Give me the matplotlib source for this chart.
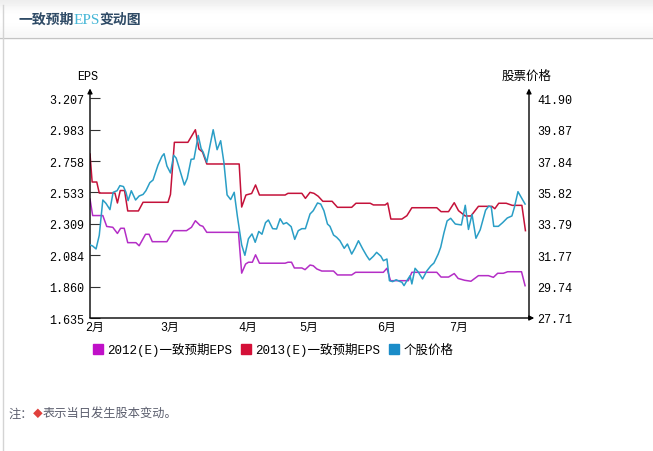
import matplotlib
matplotlib.use("Agg")
import matplotlib.pyplot as plt
from matplotlib.lines import Line2D

W, H = 653, 452

# x = trading-day index (0 = 2012-01-30)
months = ["2月", "3月", "4月", "5月", "6月", "7月"]
month_pos = [2, 23, 45, 62, 84, 104]

eps_ticks = [1.635, 1.860, 2.084, 2.309, 2.533, 2.758, 2.983, 3.207]
price_ticks = [27.71, 29.74, 31.77, 33.79, 35.82, 37.84, 39.87, 41.90]

# 2013(E) consensus EPS
eps2013_x = [0.6, 1.2, 2.5, 3.2, 7.6, 8.3, 9.1, 10.3, 11.2, 14.2,
             15.5, 22.5, 23.2, 24.3, 28.1, 30.2, 31.2, 32.2, 33.4, 42.5,
             43.2, 44.4, 46.0, 47.1, 48.2, 55.4, 56.2, 60.1, 61.1, 62.4,
             63.5, 64.7, 66.0, 68.6, 70.1, 74.1, 75.3, 79.3, 80.2, 83.5,
             84.2, 85.1, 88.2, 89.6, 91.0, 98.0, 99.2, 101.3, 102.9, 104.1,
             106.0, 107.6, 109.7, 113.5, 114.3, 115.4, 117.5, 119.2, 121.9, 122.9]
eps2013_y = [2.808, 2.608, 2.608, 2.529, 2.529, 2.458, 2.547, 2.547, 2.401, 2.401,
             2.463, 2.463, 2.519, 2.892, 2.892, 2.982, 2.844, 2.823, 2.737, 2.737,
             2.429, 2.515, 2.526, 2.587, 2.515, 2.515, 2.527, 2.527, 2.491, 2.534,
             2.527, 2.506, 2.470, 2.470, 2.427, 2.427, 2.456, 2.456, 2.444, 2.444,
             2.458, 2.343, 2.343, 2.367, 2.424, 2.424, 2.396, 2.396, 2.460, 2.403,
             2.365, 2.365, 2.434, 2.434, 2.417, 2.456, 2.456, 2.441, 2.441, 2.260]

# 2012(E) consensus EPS
eps2012_x = [0.6, 1.35, 4.2, 5.3, 7.0, 8.3, 9.2, 10.2, 11.2, 13.5,
             14.4, 16.2, 17.2, 18.1, 22.2, 24.1, 27.7, 29.1, 30.2, 31.5,
             32.3, 33.4, 42.3, 43.2, 44.3, 45.1, 46.2, 47.1, 48.2, 55.4,
             56.2, 57.2, 58.0, 60.1, 61.0, 62.4, 63.3, 64.3, 65.7, 69.0,
             70.1, 74.1, 75.2, 83.0, 84.0, 85.0, 90.0, 91.0, 98.0, 99.2,
             101.3, 102.9, 104.0, 105.8, 107.6, 109.7, 112.5, 113.9, 115.1, 116.7,
             117.9, 121.8, 122.8]
eps2012_y = [2.486, 2.368, 2.368, 2.290, 2.284, 2.240, 2.277, 2.277, 2.174, 2.174,
             2.152, 2.234, 2.234, 2.181, 2.181, 2.260, 2.260, 2.284, 2.331, 2.298,
             2.291, 2.248, 2.248, 1.956, 2.021, 2.034, 2.034, 2.087, 2.027, 2.027,
             2.034, 2.034, 1.993, 1.993, 1.981, 2.014, 2.009, 1.986, 1.971, 1.971,
             1.943, 1.943, 1.962, 1.962, 1.991, 1.902, 1.902, 1.962, 1.962, 1.928,
             1.928, 1.953, 1.918, 1.905, 1.898, 1.938, 1.938, 1.926, 1.955, 1.955,
             1.966, 1.966, 1.866]

# share price
price_x = [0.6, 1.35, 2.3, 3.2, 4.2, 5.1, 6.2, 7.1, 8.2, 9.0,
           10.0, 10.7, 11.3, 12.2, 13.4, 14.4, 15.5, 16.3, 17.4, 18.3,
           19.7, 20.8, 21.4, 22.2, 23.2, 24.1, 24.8, 25.9, 27.1, 27.9,
           29.0, 29.8, 31.0, 31.8, 32.4, 33.4, 34.3, 35.2, 36.3, 37.3,
           38.2, 39.1, 40.1, 41.1, 42.0, 43.2, 44.1, 45.1, 46.1, 47.0,
           48.0, 48.9, 49.9, 50.7, 51.9, 53.0, 54.0, 54.9, 55.8, 57.1,
           58.1, 59.1, 60.1, 61.1, 62.4, 63.3, 64.5, 65.4, 66.3, 67.3,
           68.0, 69.0, 69.9, 70.8, 72.0, 72.9, 74.1, 75.0, 76.0, 77.2,
           78.3, 79.1, 80.2, 81.1, 82.3, 83.0, 84.0, 84.7, 85.6, 86.6,
           87.5, 88.2, 88.8, 89.7, 90.5, 91.0, 91.9, 92.8, 94.0, 95.2,
           96.3, 97.2, 98.4, 99.1, 100.0, 100.9, 101.9, 103.2, 104.9, 106.0,
           106.9, 107.9, 109.0, 110.2, 111.7, 112.6, 113.3, 114.0, 115.3, 116.5,
           117.8, 119.1, 119.8, 120.8, 122.8]
price_y = [32.43, 32.36, 32.17, 33.05, 35.33, 35.11, 34.71, 35.83, 35.93, 36.26,
           36.20, 35.83, 35.29, 35.93, 35.33, 35.59, 35.69, 35.93, 36.45, 36.62,
           37.59, 38.15, 38.32, 37.53, 37.08, 38.22, 38.04, 37.21, 36.30, 36.72,
           37.96, 37.98, 39.50, 38.66, 38.41, 37.77, 38.85, 39.87, 38.58, 39.16,
           37.77, 35.66, 35.36, 35.83, 34.27, 32.43, 31.76, 32.83, 33.14, 32.60,
           33.30, 33.12, 33.87, 34.04, 33.48, 33.46, 34.12, 33.78, 33.87, 33.61,
           32.79, 33.35, 33.48, 33.48, 34.43, 34.64, 35.14, 35.07, 34.64, 33.78,
           33.63, 33.07, 32.92, 32.70, 32.21, 32.49, 31.84, 32.21, 32.70, 32.17,
           31.73, 31.46, 31.70, 31.95, 31.70, 31.41, 31.52, 30.12, 30.06, 30.18,
           30.08, 30.02, 29.80, 30.16, 30.44, 29.91, 30.92, 30.68, 30.23, 30.75,
           31.07, 31.26, 31.84, 32.28, 33.20, 33.98, 34.15, 33.78, 33.72, 34.99,
           33.43, 34.40, 32.86, 33.41, 34.67, 34.94, 34.88, 33.63, 33.63, 33.87,
           34.17, 34.30, 34.86, 35.87, 35.07]

C_2012 = "#b42ec6"
C_2013 = "#c4123a"
C_PRICE = "#2a9ec6"
MONO = ["Liberation Mono", "Noto Sans CJK SC"]
CJK = ["Noto Sans CJK SC", "DejaVu Sans"]

fig = plt.figure(figsize=(W / 100, H / 100), dpi=100)
fig.patch.set_facecolor("white")

# header bar with a soft gradient
hdr = fig.add_axes([0, 1 - 38 / H, 1, 38 / H])
hdr.imshow([[0.93], [0.98], [1.0], [1.0], [0.99], [0.97]], cmap="gray", vmin=0, vmax=1,
           aspect="auto", extent=[0, 1, 0, 1], interpolation="bicubic")
hdr.set_axis_off()
fig.add_artist(Line2D([0, 1], [1 - 38.5 / H] * 2, color="#c4c4c4", lw=1))
fig.add_artist(Line2D([3 / W] * 2, [0, 1 - 6 / H], color="#d4d4d4", lw=1))

# main chart
ax = fig.add_axes([90 / W, 1 - 319 / H, 439 / W, 219.7 / H])
ax.plot(eps2012_x, eps2012_y, color=C_2012, lw=1.1)
ax.plot(eps2013_x, eps2013_y, color=C_2013, lw=1.1)
ax.set_xlim(0.6, 123.9)
ax.set_ylim(eps_ticks[0], eps_ticks[-1])
ax.set_yticks(eps_ticks)
ax.set_yticklabels([f"{v:.3f}" for v in eps_ticks], family=MONO, fontsize=8.5)
ax.tick_params(axis="y", direction="in", length=7.5, width=0.8, color="#333333", pad=4)
ax.set_xticks(month_pos)
ax.set_xticklabels(months, family=MONO, fontsize=8.5)
ax.tick_params(axis="x", length=0, pad=2)
for s in ax.spines.values():
    s.set_visible(False)

ax2 = ax.twinx()
ax2.plot(price_x, price_y, color=C_PRICE, lw=1.1)
ax2.set_ylim(price_ticks[0], price_ticks[-1])
ax2.set_yticks(price_ticks)
ax2.set_yticklabels([f"{v:.2f}" for v in price_ticks], family=MONO, fontsize=8.5)
ax2.tick_params(axis="y", length=0, pad=6)
for s in ax2.spines.values():
    s.set_visible(False)

arrow = dict(arrowstyle="-|>", color="black", lw=1, mutation_scale=7, shrinkA=0, shrinkB=0)
ax.annotate("", xy=(0, 1.045), xytext=(0, 0), xycoords="axes fraction", arrowprops=arrow)
ax.annotate("", xy=(1, 1.045), xytext=(1, 0), xycoords="axes fraction", arrowprops=arrow)
ax.annotate("", xy=(1.012, 0), xytext=(0, 0), xycoords="axes fraction", arrowprops=arrow)

fig.text(88 / W, 1 - 77 / H, "EPS", family=MONO, fontsize=8.5, ha="center", va="center")
fig.text(527 / W, 1 - 76 / H, "股票价格", family=CJK, fontsize=9, ha="center", va="center")

handles = [Line2D([], [], marker="s", ls="none", markersize=7, color=c)
           for c in ["#c010c8", "#d41038", "#1a8cc8"]]
fig.legend(handles, ["2012(E)一致预期EPS", "2013(E)一致预期EPS", "个股价格"],
           loc="center left", bbox_to_anchor=(88 / W, 1 - 350 / H), ncol=3, frameon=False,
           handlelength=0.8, handletextpad=0.35, columnspacing=0.7, borderaxespad=0,
           prop={"family": MONO, "size": 9})

# title and note, pieced together left to right
fig.canvas.draw()
r = fig.canvas.get_renderer()


def chain(parts, x0, y0):
    x = x0
    for s, kw in parts:
        t = fig.text(x / W, 1 - y0 / H, s, ha="left", va="center", **kw)
        x += t.get_window_extent(renderer=r).width


bold = dict(family=CJK, fontsize=10, fontweight="bold", color="#2f4b66")
chain([("一致预期", bold),
       ("EPS", dict(family=["Liberation Serif"], fontsize=11, color="#45b6d6")),
       ("变动图", bold)], 18, 20)

note = dict(family=CJK, fontsize=8.8, color="#5c5f6e")
chain([("注：", note),
       ("◆", dict(family=CJK, fontsize=7, color="#e0403c")),
       ("表示当日发生股本变动。", note)], 8, 414)

fig.savefig("out.png", dpi=100)
